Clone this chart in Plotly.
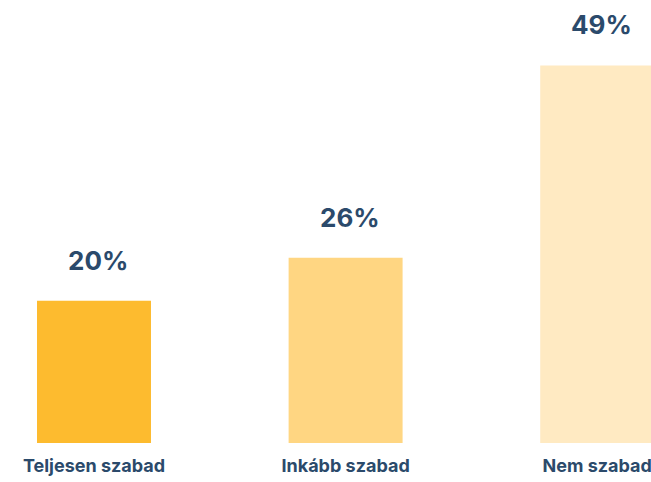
import plotly.graph_objects as go

categories = ["Teljesen szabad", "Inkább szabad", "Nem szabad"]
values = [19.9, 25.9, 52.8]
labels = ["20%", "26%", "49%"]
colors = ["#FDBB2F", "#FFD682", "#FFEAC2"]

TEXT = "#2B4A6B"
FONT = "Inter"

fig = go.Figure()
fig.add_trace(go.Bar(
    x=list(range(len(categories))),
    y=values,
    width=0.453,
    marker=dict(color=colors, line=dict(width=0)),
    hoverinfo="skip",
))

for i, (v, lab) in enumerate(zip(values, labels)):
    fig.add_annotation(
        x=i, y=v, text=lab, showarrow=False,
        yanchor="bottom", yshift=23, xshift=4,
        font=dict(family=FONT, size=26, color=TEXT, weight="bold"),
    )

fig.update_layout(
    width=651, height=482,
    margin=dict(l=0, r=0, t=0, b=39),
    paper_bgcolor="white", plot_bgcolor="white",
    showlegend=False,
    xaxis=dict(
        range=[-0.3736, 2.2138],
        tickmode="array",
        tickvals=list(range(len(categories))),
        ticktext=categories,
        tickfont=dict(family=FONT, size=18, color=TEXT, weight="bold"),
        showgrid=False, zeroline=False, showline=False, ticks="",
        ticklabelstandoff=10,
        ticklabeloverflow="allow",
    ),
    yaxis=dict(
        range=[0, 443 / 7.15],
        visible=False, showgrid=False, zeroline=False,
    ),
)

fig.write_html(
    "out.html",
    config={"displayModeBar": False},
    post_script="document.body.style.margin='0';document.body.style.overflow='hidden';",
)
